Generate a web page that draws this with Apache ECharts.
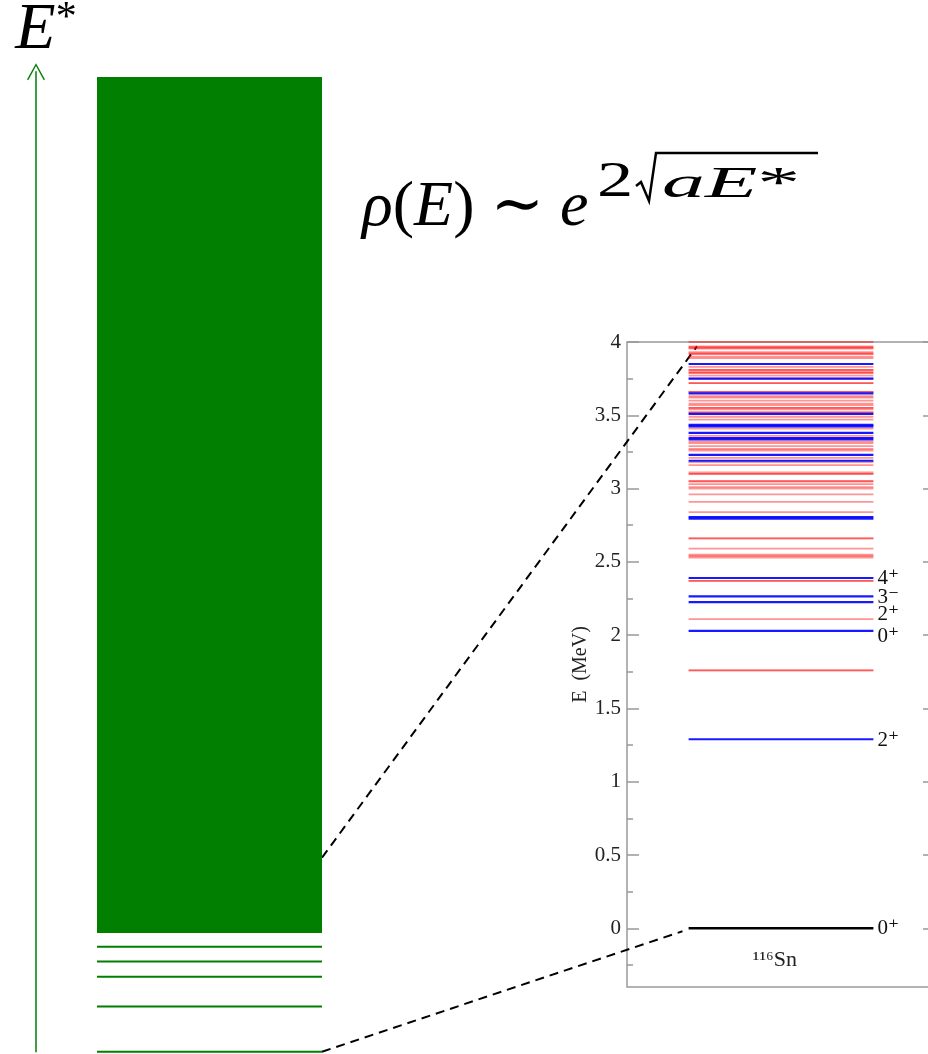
<!DOCTYPE html>
<html>
<head>
<meta charset="utf-8">
<script src="https://cdn.jsdelivr.net/npm/echarts@6/dist/echarts.min.js"></script>
<style>
  html, body { margin: 0; padding: 0; background: #fff; }
  #main { width: 928px; height: 1054px; }
</style>
</head>
<body>
<div id="main"></div>
<script>
// левая схема: E* в условных единицах
const lowLevels = [0, 0.92, 1.53, 1.84, 2.14];
const continuum = [2.42, 19.89];
const zoomFrom = [0, 3.96];          // участок E*, который раскрыт справа

// вставка: уровни 116Sn, МэВ
const groundLevel = [0];
const blueLevels = [1.29, 2.03, 2.225, 2.265, 2.39, 2.795, 2.805, 3.19, 3.23,
  3.335, 3.345, 3.38, 3.425, 3.435, 3.51, 3.65, 3.75, 3.85];
const redLevels = [1.76, 1.76, 2.11, 2.37, 2.37, 2.53, 2.54, 2.55, 2.59, 2.66, 2.66,
  2.84, 2.91, 2.96, 3.00, 3.01, 3.03, 3.05, 3.05, 3.10, 3.10, 3.11, 3.16, 3.18, 3.21,
  3.26, 3.27, 3.29, 3.31, 3.32, 3.36, 3.41, 3.47, 3.49, 3.52, 3.52, 3.54, 3.55, 3.55,
  3.57, 3.58, 3.60, 3.62, 3.63, 3.66, 3.66, 3.72, 3.72, 3.75, 3.77, 3.79, 3.79, 3.80,
  3.81, 3.81, 3.83, 3.89, 3.90, 3.92, 3.92, 3.93, 3.955, 3.96, 3.965, 3.97, 4.00];
const spinEnergies = [2.39, 2.265, 2.225, 2.03, 1.29, 0];
const spinLabels = ['4⁺', '3⁻', '2⁺', '0⁺', '2⁺', '0⁺'];
const zoomTo = [-0.02, 3.97];
const majorTicks = [0, 0.5, 1, 1.5, 2, 2.5, 3, 3.5, 4];
const minorTicks = [-0.25, 0.25, 0.75, 1.25, 1.75, 2.25, 2.75, 3.25, 3.75];
const nucleus = '¹¹⁶Sn';

const SERIF = '"Liberation Serif", "DejaVu Serif", serif';
const GREEN = '#007f00';
const BX0 = 0.2133;          // левый край блока на левой схеме (ось x 0..1)
const LX0 = 2, LX1 = 8;      // где рисуются уровни во вставке (ось x 0..10)
const labelShift = [0, 1, 12, 6, 1, 0];

let chart = echarts.init(document.getElementById('main'));

// горизонтальная линия уровня
function levelLine(x0, x1, color, width) {
  return (params, api) => {
    const a = api.coord([x0, api.value(0)]);
    const b = api.coord([x1, api.value(0)]);
    return {
      type: 'line',
      shape: {x1: a[0], y1: a[1], x2: b[0], y2: b[1]},
      style: {stroke: color, lineWidth: width}
    };
  };
}

const insetYAxis = (pos, ticks, len, labels) => ({
  type: 'value', gridIndex: 1, position: pos, min: -0.4, max: 4,
  axisLine: {show: false},
  splitLine: {show: false},
  axisTick: {show: true, inside: true, length: len, customValues: ticks,
    lineStyle: {color: '#999', width: 1.5}},
  axisLabel: {show: labels, customValues: ticks, margin: 6,
    fontFamily: SERIF, fontSize: 21, color: '#222'}
});

const option = {
  animation: false,
  grid: [
    {left: 36, width: 286, top: 71.7, bottom: 2.3, outerBoundsMode: 'none'},
    {left: 627, width: 308, top: 342, height: 645, outerBoundsMode: 'none',
      show: true, borderColor: '#999', borderWidth: 1.5, backgroundColor: 'transparent'}
  ],
  xAxis: [
    {type: 'value', gridIndex: 0, min: 0, max: 1, show: false},
    {type: 'value', gridIndex: 1, min: 0, max: 10,
      axisLine: {show: false}, axisTick: {show: false}, splitLine: {show: false},
      axisLabel: {inside: true, margin: 16, customValues: [4.8], formatter: () => nucleus,
        fontFamily: SERIF, fontSize: 22, color: '#222'}}
  ],
  yAxis: [
    {type: 'value', gridIndex: 0, min: 0, max: 20, position: 'left',
      axisLine: {show: true,
        symbol: ['none', 'path://M10,0 L20,18 L18.6,18.9 L10,3 L1.4,18.9 L0,18 Z'],
        symbolSize: [19, 17],
        lineStyle: {color: GREEN, width: 1.5}},
      axisTick: {show: false}, axisLabel: {show: false}, splitLine: {show: false},
      name: '{i|E}{s|*}', nameLocation: 'end', nameGap: 8,
      nameTextStyle: {
        padding: [0, 0, 0, 20],
        rich: {
          i: {fontFamily: SERIF, fontStyle: 'italic', fontSize: 66, color: '#000'},
          s: {fontFamily: SERIF, fontSize: 42, color: '#000', verticalAlign: 'top'}
        }
      }},
    Object.assign(insetYAxis('left', majorTicks, 12, true), {
      name: 'E  (MeV)', nameLocation: 'middle', nameGap: 36,
      nameTextStyle: {fontFamily: SERIF, fontSize: 20, color: '#222'}}),
    insetYAxis('left', minorTicks, 6, false),
    insetYAxis('right', majorTicks, 12, false),
    insetYAxis('right', minorTicks, 6, false)
  ],
  series: [
    {
      name: 'continuum', type: 'custom', xAxisIndex: 0, yAxisIndex: 0,
      data: [continuum],
      renderItem: (params, api) => {
        const a = api.coord([BX0, api.value(1)]);
        const b = api.coord([1, api.value(0)]);
        return {type: 'rect', shape: {x: a[0], y: a[1], width: b[0] - a[0], height: b[1] - a[1]},
          style: {fill: GREEN}};
      }
    },
    {
      name: 'low levels', type: 'custom', xAxisIndex: 0, yAxisIndex: 0,
      data: lowLevels.map(v => [v]),
      renderItem: levelLine(BX0, 1, GREEN, 2)
    },
    {
      name: 'red', type: 'custom', xAxisIndex: 1, yAxisIndex: 1,
      data: redLevels.map(v => [v]),
      renderItem: levelLine(LX0, LX1, 'rgba(255,0,0,0.42)', 1.8)
    },
    {
      name: 'blue', type: 'custom', xAxisIndex: 1, yAxisIndex: 1,
      data: blueLevels.map(v => [v]),
      renderItem: levelLine(LX0, LX1, 'rgba(0,0,255,0.9)', 2.2)
    },
    {
      name: 'ground', type: 'custom', xAxisIndex: 1, yAxisIndex: 1,
      data: groundLevel.map(v => [v]),
      renderItem: levelLine(LX0, LX1, '#000', 2.5)
    },
    {
      name: 'spins', type: 'custom', xAxisIndex: 1, yAxisIndex: 1,
      data: spinEnergies.map((v, i) => [v, i]),
      renderItem: (params, api) => {
        const i = api.value(1);
        const p = api.coord([LX1, api.value(0)]);
        return {type: 'text', x: p[0] + 4, y: p[1] + labelShift[i],
          style: {text: spinLabels[i], fontFamily: SERIF, fontSize: 21, fill: '#111',
            verticalAlign: 'middle', align: 'left'}};
      }
    }
  ],
  graphic: [
    {type: 'text', x: 362, y: 208,
      style: {text: '{i|ρ}{r|(}{i|E}{r|) ∼ }{i|e}', verticalAlign: 'middle',
        rich: {
          i: {fontFamily: SERIF, fontStyle: 'italic', fontSize: 64, fill: '#000'},
          r: {fontFamily: SERIF, fontSize: 64, fill: '#000'}
        }}},
    {type: 'text', x: 597, y: 183, scaleX: 1.45,
      style: {text: '2', fontFamily: SERIF, fontSize: 50, fill: '#000', verticalAlign: 'middle'}},
    {type: 'text', x: 662, y: 185, scaleX: 1.95,
      style: {text: '{i|aE}{r|*}', verticalAlign: 'middle',
        rich: {
          i: {fontFamily: SERIF, fontStyle: 'italic', fontSize: 44, fill: '#000'},
          r: {fontFamily: SERIF, fontSize: 44, fill: '#000'}
        }}},
    {type: 'polyline',
      shape: {points: [[636, 186], [641, 182], [649, 201], [656, 153], [818, 153]]},
      style: {stroke: '#000', lineWidth: 2.5, fill: null}}
  ]
};

chart.setOption(option);

// пунктирные линии, связывающие левую схему со вставкой
const guides = zoomFrom.map((e, k) => {
  const a = chart.convertToPixel({xAxisIndex: 0, yAxisIndex: 0}, [1, e]);
  const b = chart.convertToPixel({xAxisIndex: 1, yAxisIndex: 1}, [k === 0 ? 1.8 : 2.27, zoomTo[k]]);
  return {type: 'line', shape: {x1: a[0], y1: a[1], x2: b[0], y2: b[1]},
    style: {stroke: '#000', lineWidth: 2, lineDash: [9, 6]}};
});
chart.setOption({graphic: option.graphic.concat(guides)});
</script>
</body>
</html>
